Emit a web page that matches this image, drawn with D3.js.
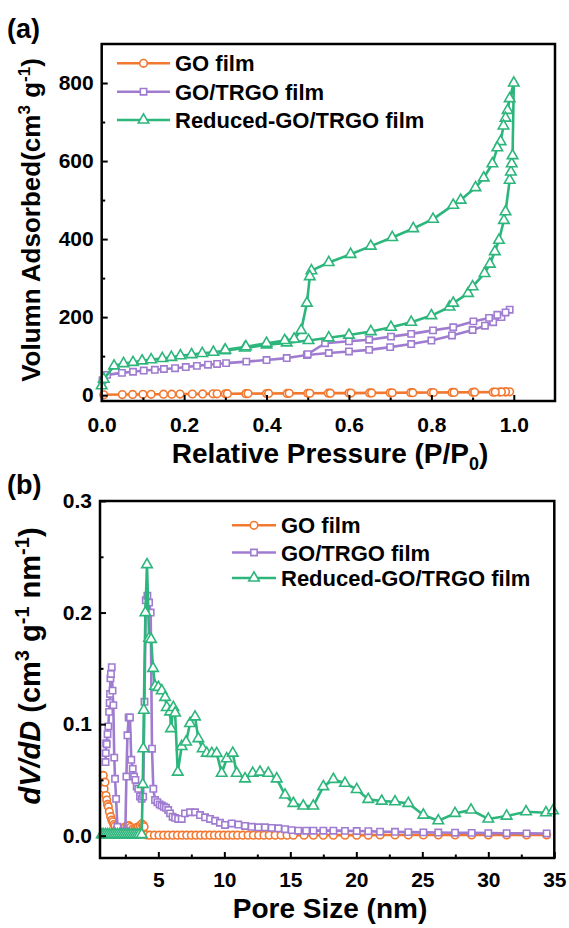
<!DOCTYPE html>
<html>
<head>
<meta charset="utf-8">
<script src="https://cdn.jsdelivr.net/npm/d3@7"></script>
<style>
body { margin: 0; background: #fff; }
text { font-family: "Liberation Sans", Arial, sans-serif; font-weight: bold; fill: #000; }
</style>
</head>
<body>
<svg></svg>
<script>
// series names
var seriesNames = ["GO film", "GO/TRGO film", "Reduced-GO/TRGO film"];

// (a) N2 isotherms, [P/P0, volume]
var isoGO = [[0.005,1],[0.05,1.5],[0.075,1.8],[0.1,2],[0.12,2.2],[0.15,2.4],[0.17,2.6],[0.19,2.8],[0.22,3],[0.245,3.2],
  [0.27,3.4],[0.28,3.5],[0.3,3.6],[0.35,3.9],[0.4,4.2],[0.45,4.5],[0.5,4.8],[0.55,5],[0.6,5.3],[0.65,5.6],[0.7,6],
  [0.75,6.3],[0.8,6.6],[0.85,7],[0.9,7.3],[0.95,7.7],[0.965,8],[0.98,8.3],[0.99,8.5],[0.98,8.4],[0.97,8.2],[0.955,8],
  [0.905,7.5],[0.855,7.1],[0.805,6.8],[0.755,6.4],[0.705,6.1],[0.655,5.7],[0.605,5.4],[0.555,5.1],[0.505,4.9],
  [0.455,4.6],[0.405,4.3],[0.355,4],[0.305,3.7]];
var isoTRGO = [[0.002,38],[0.013,52],[0.049,57],[0.076,60],[0.102,63],[0.129,65],[0.151,67],[0.178,69],[0.204,72],
  [0.231,75],[0.258,78],[0.28,80],[0.302,82],[0.351,86],[0.4,90],[0.449,95],[0.498,103],[0.551,108],[0.6,112],
  [0.649,116],[0.7,123],[0.751,131],[0.8,140],[0.85,153],[0.9,167],[0.93,178],[0.95,187],[0.97,200],[0.99,219],
  [0.98,212],[0.96,206],[0.94,198],[0.902,189],[0.853,174],[0.804,166],[0.751,157],[0.702,150],[0.649,142],
  [0.6,138],[0.542,133],[0.5,105]];
var isoRed = [[0.0,24],[0.005,41],[0.03,75],[0.053,81],[0.076,84],[0.098,88],[0.12,91],[0.147,94],[0.169,97],
  [0.191,101],[0.218,104],[0.244,107],[0.271,110],[0.298,114],[0.347,121],[0.4,129],[0.449,134],[0.502,140],
  [0.551,147],[0.6,154],[0.653,163],[0.702,174],[0.751,187],[0.8,204],[0.844,226],[0.853,236],[0.889,261],
  [0.9,278],[0.929,312],[0.942,336],[0.954,368],[0.964,397],[0.976,448],[0.98,470],[0.99,551],[0.993,572],
  [0.995,593],[0.997,614],[1.0,800],[0.99,760],[0.985,730],[0.98,710],[0.975,690],[0.968,650],[0.96,634],
  [0.948,593],[0.927,557],[0.907,532],[0.871,500],[0.853,487],[0.804,451],[0.756,427],[0.705,404],[0.653,382],
  [0.604,361],[0.551,340],[0.509,319],[0.505,304],[0.498,236],[0.484,166],[0.467,144],[0.444,140],[0.4,133],
  [0.35,124],[0.3,116]];

// (b) pore size distribution, [pore size nm, dV/dD]
var psdGO = [[0.83,0.054],[0.89,0.042],[0.96,0.048],[1.04,0.036],[1.09,0.032],[1.15,0.028],[1.21,0.026],[1.29,0.0215],
  [1.39,0.017],[1.47,0.014],[1.55,0.0125],[1.63,0.01],[1.72,0.0087],[1.85,0.006],[1.97,0.0057],[2.1,0.006],
  [2.23,0.0066],[2.35,0.0066],[2.5,0.008],[2.65,0.0087],[2.78,0.009],[2.9,0.0075],[3.05,0.006],[3.23,0.0066],
  [3.36,0.0072],[3.48,0.008],[3.62,0.009],[3.74,0.0105],[3.85,0.0095],[3.92,0.008],[4.12,0.0006],[4.35,0.0005],
  [4.7,0.0005],[5.05,0.0005],[5.4,0.0005],[5.75,0.0005],[6.1,0.0005],[6.45,0.0005],[6.8,0.0005],[7.15,0.0005],
  [7.5,0.0005],[7.85,0.0005],[8.2,0.0005],[8.55,0.0005],[8.9,0.0005],[9.25,0.0005],[9.6,0.0005],[9.95,0.0005],
  [10.3,0.0005],[10.65,0.0005],[11.0,0.0005],[11.4,0.0005],[11.8,0.0005],[12.2,0.0005],[12.6,0.0005],[13.0,0.0005],
  [13.4,0.0005],[13.85,0.0005],[14.3,0.0005],[14.75,0.0005],[15.23,0.0005],[16.04,0.0005],[16.75,0.0005],
  [17.5,0.0005],[18.26,0.0005],[19.14,0.0005],[20.03,0.0005],[20.91,0.0005],[21.8,0.0006],[22.93,0.0006],
  [23.94,0.0006],[25.08,0.0006],[26.21,0.0006],[27.48,0.0006],[28.74,0.0006],[30.0,0.0006],[31.39,0.0006],
  [32.9,0.0006],[34.42,0.0006]];
var psdTRGO = [[1.0,0.066],[1.02,0.074],[1.05,0.083],[1.09,0.082],[1.15,0.091],[1.21,0.098],[1.27,0.111],[1.31,0.119],
  [1.34,0.127],[1.37,0.141],[1.41,0.145],[1.47,0.151],[1.53,0.13],[1.59,0.117],[1.66,0.07],[1.72,0.051],[1.8,0.033],
  [1.9,0.008],[2.0,0.002],[2.1,0.002],[2.2,0.002],[2.3,0.002],[2.4,0.002],[2.5,0.004],[2.58,0.053],[2.66,0.09],
  [2.75,0.106],[2.85,0.106],[2.95,0.068],[3.06,0.06],[3.16,0.053],[3.26,0.05],[3.36,0.044],[3.48,0.042],[3.61,0.035],
  [3.74,0.033],[3.85,0.035],[3.95,0.12],[4.05,0.211],[4.17,0.215],[4.3,0.209],[4.42,0.2],[4.52,0.078],[4.62,0.042],
  [4.75,0.032],[4.93,0.03],[5.1,0.028],[5.26,0.027],[5.42,0.026],[5.58,0.025],[5.75,0.023],[5.89,0.02],[6.08,0.017],
  [6.27,0.016],[6.5,0.015],[6.77,0.015],[7.02,0.02],[7.4,0.021],[7.78,0.021],[8.16,0.0185],[8.54,0.0165],[8.92,0.015],
  [9.3,0.0134],[9.67,0.0116],[10.05,0.0096],[10.56,0.011],[11.06,0.01],[11.57,0.0087],[12.07,0.008],[12.58,0.0075],
  [13.08,0.0075],[13.59,0.007],[14.09,0.0066],[14.6,0.0058],[15.1,0.005],[15.6,0.0045],[16.2,0.0045],[16.75,0.0045],
  [17.5,0.0045],[18.26,0.0045],[19.14,0.0043],[20.03,0.0042],[20.91,0.004],[21.8,0.0036],[22.93,0.0035],
  [23.94,0.0032],[25.08,0.003],[26.21,0.0028],[27.48,0.0027],[28.74,0.0025],[30.0,0.0023],[31.39,0.0022],
  [32.9,0.0021],[34.42,0.002]];
var psdRed = [[0.72,0.001],[0.85,0.001],[1.0,0.001],[1.15,0.001],[1.3,0.001],[1.45,0.001],[1.6,0.001],[1.75,0.001],
  [1.9,0.001],[2.05,0.001],[2.2,0.001],[2.35,0.001],[2.5,0.001],[2.65,0.001],[2.8,0.001],[2.95,0.001],[3.1,0.001],
  [3.25,0.001],[3.4,0.001],[3.55,0.001],[3.74,0.001],[3.82,0.046],
  [3.86,0.078],[3.9,0.1125],[4.02,0.2],[4.14,0.243],[4.3,0.177],[4.45,0.176],[4.6,0.15],[4.75,0.134],[5.0,0.133],
  [5.26,0.13],[5.51,0.124],[5.64,0.115],[5.89,0.111],[5.96,0.096],[6.14,0.115],[6.27,0.11],[6.47,0.057],[6.77,0.08],
  [7.1,0.084],[7.4,0.1006],[7.78,0.1065],[8.03,0.087],[8.36,0.078],[8.67,0.074],[9.05,0.0738],[9.42,0.0738],
  [9.8,0.056],[10.18,0.069],[10.64,0.074],[10.94,0.056],[11.57,0.051],[12.15,0.056],[12.7,0.057],[13.33,0.056],
  [13.97,0.051],[14.6,0.0365],[15.23,0.029],[15.98,0.0266],[16.74,0.0266],[17.5,0.044],[18.26,0.0505],[19.14,0.047],
  [20.03,0.0415],[20.9,0.0326],[21.92,0.031],[22.93,0.0304],[23.94,0.029],[25.08,0.0185],[26.21,0.0134],[27.48,0.02],
  [28.69,0.023],[30.0,0.015],[31.39,0.0176],[32.86,0.0215],[34.37,0.0206],[34.9,0.0224]];

// ticks
var aXTicks = [0, 0.2, 0.4, 0.6, 0.8, 1.0];
var aXMinor = [0.1, 0.3, 0.5, 0.7, 0.9];
var aYTicks = [0, 200, 400, 600, 800];
var aYMinor = [100, 300, 500, 700];
var bXTicks = [5, 10, 15, 20, 25, 30, 35];
var bXMinor = [2.5, 7.5, 12.5, 17.5, 22.5, 27.5, 32.5];
var bYTicks = [0.0, 0.1, 0.2, 0.3];
var bYMinor = [0.05, 0.15, 0.25];

var colors = ["#f27830", "#a07cd0", "#2db67c"];
var shapes = ["circle", "square", "triangle"];

var svg = d3.select("svg").attr("width", 569).attr("height", 928);
svg.append("rect").attr("width", 569).attr("height", 928).attr("fill", "#fff");

function marker(g, shape, color, x, y) {
  if (shape == "circle") {
    g.append("circle").attr("cx", x).attr("cy", y).attr("r", 3.8)
      .attr("fill", "#fff").attr("stroke", color).attr("stroke-width", 1.6);
  } else {
    var sym = shape == "square" ? d3.symbolSquare : d3.symbolTriangle;
    var size = shape == "square" ? 40 : 48;
    g.append("path").attr("d", d3.symbol().type(sym).size(size)())
      .attr("transform", "translate(" + x + "," + y + ")")
      .attr("fill", "#fff").attr("stroke", color).attr("stroke-width", 1.6);
  }
}

function drawPanel(p) {
  var x = d3.scaleLinear().domain(p.xDomain).range([p.left, p.right]);
  var y = d3.scaleLinear().domain(p.yDomain).range([p.bottom, p.top]);

  // series
  p.series.forEach(function(s, i) {
    var g = svg.append("g");
    g.append("path").datum(s)
      .attr("d", d3.line().x(function(d){ return x(d[0]); }).y(function(d){ return y(d[1]); }))
      .attr("fill", "none").attr("stroke", colors[i]).attr("stroke-width", 2.6).attr("stroke-linejoin", "round");
    s.forEach(function(d) { marker(g, shapes[i], colors[i], x(d[0]), y(d[1])); });
  });

  // axes, ticks pointing in
  var xa = svg.append("g").attr("transform", "translate(0," + p.bottom + ")")
    .call(d3.axisBottom(x).tickValues(p.xTicks).tickFormat(p.xFmt).tickSize(-6).tickPadding(p.xPad));
  svg.append("g").attr("transform", "translate(0," + p.bottom + ")")
    .call(d3.axisBottom(x).tickValues(p.xMinor).tickFormat("").tickSize(-3.5));
  var ya = svg.append("g").attr("transform", "translate(" + p.left + ",0)")
    .call(d3.axisLeft(y).tickValues(p.yTicks).tickFormat(p.yFmt).tickSize(-6).tickPadding(8));
  svg.append("g").attr("transform", "translate(" + p.left + ",0)")
    .call(d3.axisLeft(y).tickValues(p.yMinor).tickFormat("").tickSize(-3.5));
  svg.selectAll(".domain").remove();
  svg.selectAll(".tick line").attr("stroke", "#000").attr("stroke-width", 2);
  [xa, ya].forEach(function(a) {
    a.selectAll("text").style("font-size", "21px")
      .style("font-family", "Liberation Sans, Arial, sans-serif").style("font-weight", "bold");
  });

  svg.append("rect").attr("x", p.left).attr("y", p.top)
    .attr("width", p.right - p.left).attr("height", p.bottom - p.top)
    .attr("fill", "none").attr("stroke", "#000").attr("stroke-width", 2.5);

  // legend
  seriesNames.forEach(function(name, i) {
    var ly = p.legY[i];
    var g = svg.append("g");
    g.append("line").attr("x1", p.legX).attr("x2", p.legX + p.legLen).attr("y1", ly).attr("y2", ly)
      .attr("stroke", colors[i]).attr("stroke-width", 2.6);
    marker(g, shapes[i], colors[i], p.legX + p.legLen / 2, ly);
    g.append("text").attr("x", p.legX + p.legLen + 5).attr("y", ly + 8)
      .style("font-size", "22px").text(name);
  });

  // panel label
  svg.append("text").attr("x", 7).attr("y", p.labelY).style("font-size", "27px").text(p.label);
}

drawPanel({
  left: 101.7, right: 555, top: 44, bottom: 401,
  xDomain: [0, 1.1], yDomain: [-15, 900],
  xTicks: aXTicks, xMinor: aXMinor, yTicks: aYTicks, yMinor: aYMinor,
  xFmt: d3.format(".1f"), yFmt: d3.format("d"), xPad: 16,
  series: [isoGO, isoTRGO, isoRed],
  legX: 117, legLen: 53, legY: [63.3, 91.7, 120],
  label: "(a)", labelY: 38
});

drawPanel({
  left: 100, right: 554.3, top: 501, bottom: 858,
  xDomain: [0.58, 35], yDomain: [-0.02, 0.3],
  xTicks: bXTicks, xMinor: bXMinor, yTicks: bYTicks, yMinor: bYMinor,
  xFmt: d3.format("d"), yFmt: d3.format(".1f"), xPad: 14,
  series: [psdGO, psdTRGO, psdRed],
  legX: 232, legLen: 44, legY: [525.3, 552.5, 578],
  label: "(b)", labelY: 494
});

// axis titles
var t1 = svg.append("text").attr("x", 330).attr("y", 463).attr("text-anchor", "middle").style("font-size", "28px");
t1.append("tspan").text("Relative Pressure (P/P");
t1.append("tspan").attr("dy", 7).style("font-size", "18px").text("0");
t1.append("tspan").attr("dy", -7).text(")");

svg.append("text").attr("x", 330).attr("y", 918).attr("text-anchor", "middle").style("font-size", "28px")
  .text("Pore Size (nm)");

var t2 = svg.append("text").attr("transform", "translate(40,220) rotate(-90)")
  .attr("text-anchor", "middle").style("font-size", "26px");
t2.append("tspan").text("Volumn Adsorbed(cm");
t2.append("tspan").attr("dy", -10).style("font-size", "17px").text("3");
t2.append("tspan").attr("dy", 10).text(" g");
t2.append("tspan").attr("dy", -10).style("font-size", "17px").text("-1");
t2.append("tspan").attr("dy", 10).text(")");

var t3 = svg.append("text").attr("transform", "translate(40,666) rotate(-90)")
  .attr("text-anchor", "middle").style("font-size", "29px");
t3.append("tspan").style("font-style", "italic").text("dV/dD");
t3.append("tspan").text(" (cm");
t3.append("tspan").attr("dy", -11).style("font-size", "20px").text("3");
t3.append("tspan").attr("dy", 11).text(" g");
t3.append("tspan").attr("dy", -11).style("font-size", "20px").text("-1");
t3.append("tspan").attr("dy", 11).text(" nm");
t3.append("tspan").attr("dy", -11).style("font-size", "20px").text("-1");
t3.append("tspan").attr("dy", 11).text(")");
</script>
</body>
</html>
